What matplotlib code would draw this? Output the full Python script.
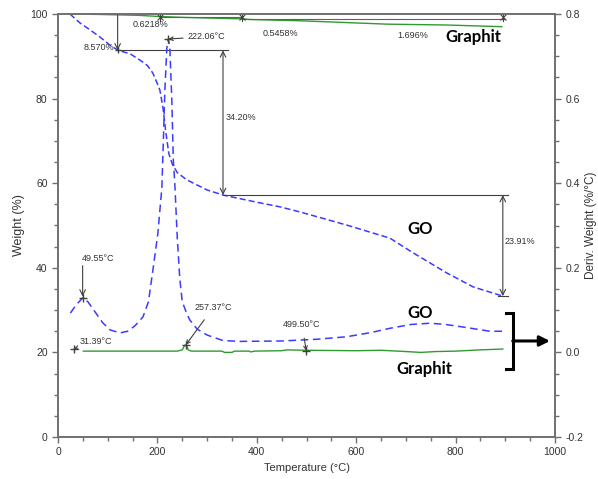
import matplotlib
matplotlib.use('Agg')
import matplotlib.pyplot as plt
from matplotlib.ticker import MultipleLocator
import numpy as np

plt.rcParams['font.family'] = ['Liberation Sans', 'DejaVu Sans']

# GO weight curve (left axis, %)
go_w_t = [24, 44, 65, 84, 105, 121, 145, 165, 180, 191, 200, 205, 211, 217, 223, 230, 240,
          259, 300, 332, 400, 447, 487, 581, 668, 715, 782, 835, 895]
go_w = [100, 97.9, 96.2, 94.6, 92.6, 91.4, 90.6, 89.1, 87.8, 86.0, 83.5, 82.0, 78.0, 72.0,
        67.0, 64.5, 62.5, 60.8, 58.4, 57.2, 55.5, 54.4, 53.2, 50.1, 47.0, 43.5, 38.8, 35.5, 33.3]

# GO derivative curve (right axis, %/°C)
go_d_t = [25, 35, 49.5, 60, 75, 90, 105, 125, 140, 155, 171, 182, 191, 201, 209, 212, 215,
          219, 222, 225, 229, 232, 235, 240, 245, 250, 258, 265, 280, 300, 332, 366, 450,
          520, 581, 630, 668, 710, 749, 780, 815, 869, 895]
go_d = [0.093, 0.11, 0.129, 0.12, 0.095, 0.07, 0.053, 0.046, 0.05, 0.063, 0.084, 0.12, 0.195,
        0.282, 0.39, 0.50, 0.62, 0.72, 0.741, 0.72, 0.597, 0.455, 0.40, 0.27, 0.175, 0.12,
        0.095, 0.077, 0.055, 0.041, 0.028, 0.026, 0.027, 0.031, 0.037, 0.047, 0.057, 0.066,
        0.069, 0.066, 0.06, 0.05, 0.05]

# Graphit weight curve
gr_w_t = [24, 80, 159, 205, 252, 370, 386, 487, 662, 782, 893]
gr_w = [100, 99.9, 99.7, 99.4, 99.2, 98.85, 98.7, 98.4, 97.6, 97.4, 97.0]

# Graphit derivative curve
gr_d_t = [51, 240, 250, 255, 258, 262, 268, 330, 335, 350, 355, 385, 388, 395, 450, 460,
          500, 600, 650, 700, 730, 760, 800, 850, 895]
gr_d = [0.003, 0.003, 0.006, 0.017, 0.018, 0.006, 0.003, 0.003, 0.0, 0.0, 0.003, 0.003,
        0.001, 0.003, 0.004, 0.006, 0.005, 0.004, 0.005, 0.002, 0.0, 0.002, 0.003, 0.006, 0.008]

blue = '#3b3bff'
green = '#2f9a2f'
gray = '#404040'
small = dict(fontsize=6.5, color='#333333', family=['Liberation Sans Narrow', 'Liberation Sans'])
bold = dict(fontsize=12, fontweight='bold', family=['Lato', 'DejaVu Sans'], color='black')

fig = plt.figure(figsize=(5.98, 4.79), dpi=100)
ax = fig.add_axes([58 / 598, 1 - 437 / 479, (555 - 58) / 598, (437 - 14) / 479])
ax2 = ax.twinx()

ax.plot(go_w_t, go_w, color=blue, lw=1.1, ls=(0, (4, 2)))
ax.plot(gr_w_t, gr_w, color=green, lw=1.0)
ax2.plot(go_d_t, go_d, color=blue, lw=1.1, ls=(0, (5, 3)))
ax2.plot(gr_d_t, gr_d, color=green, lw=1.0)

ax.set_xlim(0, 1000)
ax.set_ylim(0, 100)
ax2.set_ylim(-0.2, 0.8)

ax.xaxis.set_major_locator(MultipleLocator(200))
ax.xaxis.set_minor_locator(MultipleLocator(50))
ax.yaxis.set_major_locator(MultipleLocator(20))
ax.yaxis.set_minor_locator(MultipleLocator(5))
ax2.yaxis.set_major_locator(MultipleLocator(0.2))
ax2.yaxis.set_minor_locator(MultipleLocator(0.05))
ax2.yaxis.set_major_formatter(matplotlib.ticker.FormatStrFormatter('%.1f'))

for a in (ax, ax2):
    for s in a.spines.values():
        s.set_color('#707070')
        s.set_linewidth(1.2)
    a.tick_params(which='both', direction='out', colors='#707070', labelcolor='#333333',
                  labelsize=7.5, width=1)
    a.tick_params(which='major', length=4)
    a.tick_params(which='minor', length=3)

ax.set_xlabel('Temperature (°C)', fontsize=8, color='#333333', labelpad=4)
ax.set_ylabel('Weight (%)', fontsize=9, color='#333333', labelpad=4)
ax2.set_ylabel('Deriv. Weight (%/°C)', fontsize=8.5, color='#333333', labelpad=1)

# GO step markers
arr = dict(arrowstyle='->', color=gray, lw=0.8, shrinkA=0, shrinkB=0)
arr2 = dict(arrowstyle='<->', color=gray, lw=0.8, shrinkA=0, shrinkB=0)
ax.annotate('', xy=(120, 91.4), xytext=(120, 100), arrowprops=arr)
ax.plot([120, 342], [91.4, 91.4], color=gray, lw=0.8)
ax.annotate('', xy=(332, 57.2), xytext=(332, 91.4), arrowprops=arr2)
ax.plot([332, 905], [57.2, 57.2], color=gray, lw=0.8)
ax.annotate('', xy=(895, 33.3), xytext=(895, 57.2), arrowprops=arr2)
ax.plot([885, 905], [33.3, 33.3], color=gray, lw=0.8)
ax.plot([120], [91.4], marker='+', color=gray, ms=5)

# Graphit step markers
ax.plot([205, 370], [99.4, 99.4], color='#606060', lw=0.8)
ax.plot([370, 900], [98.85, 98.85], color='#606060', lw=0.8)
for t in (205, 370, 895):
    ax.plot([t, t], [98.3, 100.3], color=gray, lw=0.8, clip_on=False)
    ax.plot([t], [99.3], marker='x', color=gray, ms=4, mew=0.8)

ax.text(151, 97.6, '0.6218%', va='center', **small)
ax.text(412, 95.5, '0.5458%', va='center', **small)
ax.text(682, 95.0, '1.696%', va='center', **small)
ax.text(113, 92.0, '8.570%', va='center', ha='right', **small)
ax.text(338, 75.6, '34.20%', va='center', **small)
ax.text(899, 46.3, '23.91%', va='center', **small)

# peak labels on derivative axis
ax2.plot([222.06], [0.741], marker='+', color=gray, ms=6)
ax2.annotate('222.06°C', xy=(222.06, 0.741), xytext=(260, 0.746), va='center',
             arrowprops=dict(arrowstyle='->', color=gray, lw=0.8, shrinkA=1, shrinkB=0), **small)
ax2.plot([49.55], [0.129], marker='+', color=gray, ms=6)
ax2.text(48, 0.221, '49.55°C', va='center', **small)
ax2.annotate('', xy=(49.55, 0.132), xytext=(49.55, 0.205), arrowprops=arr)
ax2.plot([31.39], [0.008], marker='+', color=gray, ms=6)
ax2.annotate('31.39°C', xy=(31.39, 0.008), xytext=(44, 0.025), va='center',
             arrowprops=dict(arrowstyle='->', color=gray, lw=0.8, shrinkA=0, shrinkB=0), **small)
ax2.plot([257.37], [0.018], marker='+', color=gray, ms=6)
ax2.annotate('257.37°C', xy=(257.37, 0.018), xytext=(274, 0.105), va='center',
             arrowprops=dict(arrowstyle='->', color=gray, lw=0.8, shrinkA=4, shrinkB=0), **small)
ax2.plot([499.5], [0.004], marker='+', color=gray, ms=6)
ax2.annotate('499.50°C', xy=(499.5, 0.004), xytext=(453, 0.067), va='center',
             arrowprops=dict(arrowstyle='->', color=gray, lw=0.8, shrinkA=5, shrinkB=0), **small)

# sample labels
ax.text(728, 49.2, 'GO', ha='center', va='center', **bold)
ax.text(728, 29.3, 'GO', ha='center', va='center', **bold)
ax.text(738, 16.1, 'Graphit', ha='center', va='center', **bold)
ax.text(835, 94.6, 'Graphit', ha='center', va='center', **bold)

# bracket pointing to the derivative axis
ax2.plot([901, 915, 915, 901], [0.093, 0.093, -0.039, -0.039], color='black', lw=2.2,
         solid_joinstyle='miter')
ax2.annotate('', xy=(990, 0.027), xytext=(915, 0.027),
             arrowprops=dict(arrowstyle='-|>,head_length=0.6,head_width=0.3', color='black',
                             lw=2.2, shrinkA=0, shrinkB=0))

fig.savefig('out.png', dpi=100)
